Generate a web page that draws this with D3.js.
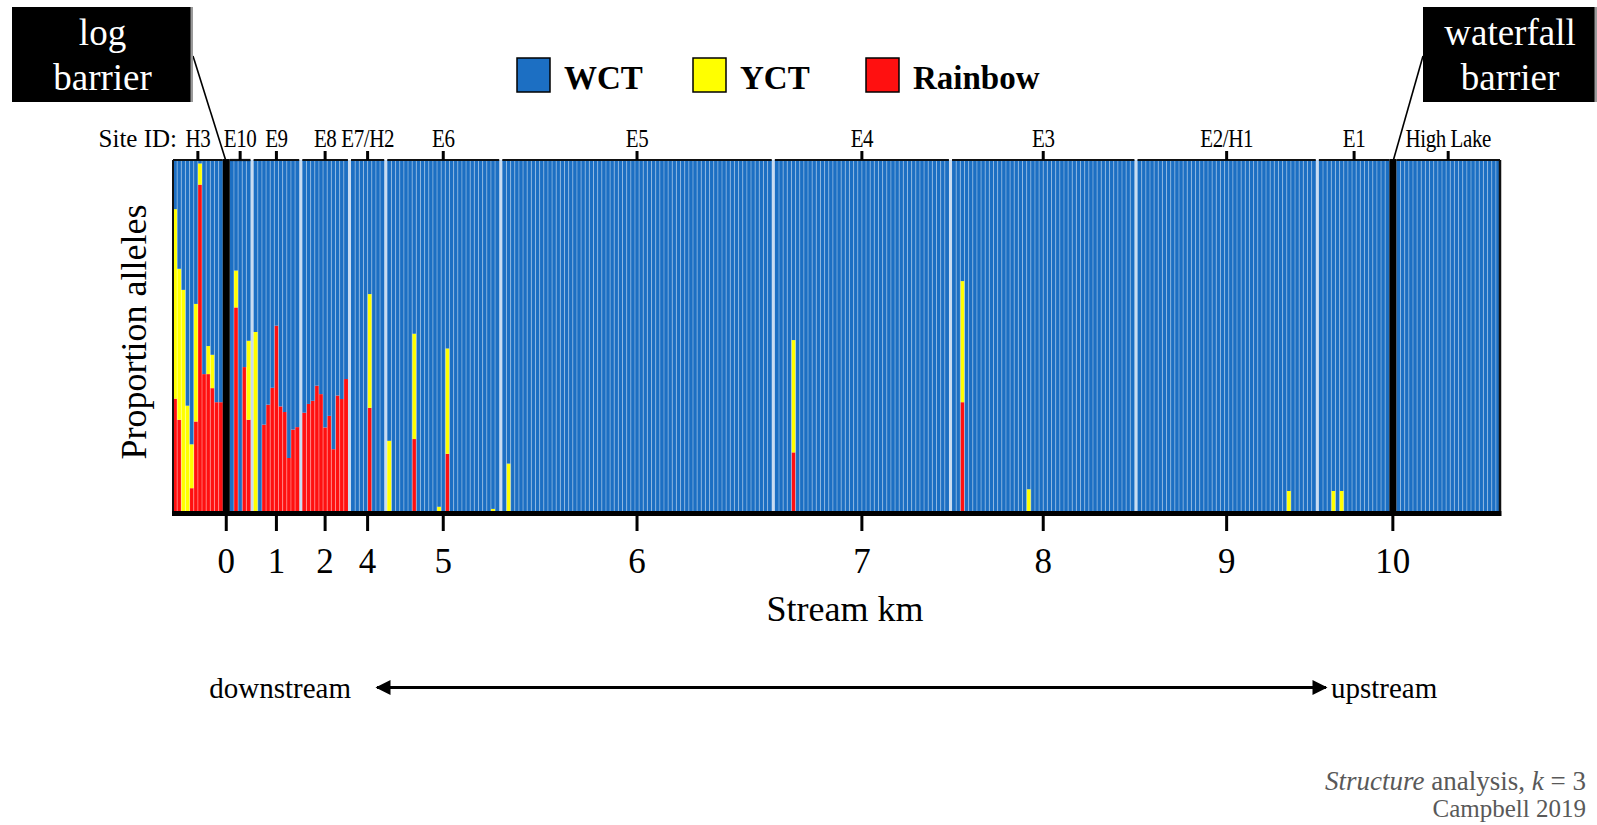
<!DOCTYPE html>
<html>
<head>
<meta charset="utf-8">
<script src="https://cdn.jsdelivr.net/npm/d3@7"></script>
<style>
  body { margin: 0; background: #fff; }
  svg { display: block; }
  text { font-family: "Liberation Serif", "Times New Roman", serif; }
</style>
</head>
<body>
<svg id="chart" width="1597" height="825"></svg>
<script>
// Sampling sites, downstream to upstream, and the number of fish genotyped at each
const siteIds   = ["H3", "E10", "E9", "E8", "E7/H2", "E6", "E5", "E4", "E3", "E2/H1", "E1", "High Lake"];
const siteSizes = [12, 5, 11, 11, 8, 27, 65, 42, 44, 43, 17, 25];

// Barriers sit immediately upstream of these sites
const barrierNames = ["log\nbarrier", "waterfall\nbarrier"];
const barrierAfter = ["H3", "E1"];

// Ancestry groups (k = 3)
const groups      = ["WCT", "YCT", "Rainbow"];
const groupColors = ["#1c6fc3", "#ffff00", "#ff1010"];

// Fish with non-WCT ancestry: [site, fish index within site, Rainbow proportion, YCT proportion]
// every other fish is pure WCT
const admixedFish = [
  ["H3", 0, 0.32, 0.54], ["H3", 1, 0.26, 0.43], ["H3", 2, 0.00, 0.63], ["H3", 3, 0.00, 0.30],
  ["H3", 4, 0.065, 0.125], ["H3", 5, 0.255, 0.335], ["H3", 6, 0.93, 0.06], ["H3", 7, 0.39, 0.00],
  ["H3", 8, 0.39, 0.08], ["H3", 9, 0.35, 0.095], ["H3", 10, 0.31, 0.00], ["H3", 11, 0.31, 0.00],
  ["E10", 1, 0.58, 0.105], ["E10", 3, 0.41, 0.00], ["E10", 4, 0.26, 0.225],
  ["E9", 0, 0.00, 0.51], ["E9", 2, 0.246, 0], ["E9", 3, 0.303, 0], ["E9", 4, 0.351, 0],
  ["E9", 5, 0.528, 0], ["E9", 6, 0.298, 0], ["E9", 7, 0.282, 0], ["E9", 8, 0.151, 0],
  ["E9", 9, 0.232, 0], ["E9", 10, 0.239, 0],
  ["E8", 0, 0.28, 0], ["E8", 1, 0.305, 0], ["E8", 2, 0.314, 0], ["E8", 3, 0.357, 0],
  ["E8", 4, 0.333, 0], ["E8", 5, 0.238, 0], ["E8", 6, 0.271, 0], ["E8", 7, 0.176, 0],
  ["E8", 8, 0.329, 0], ["E8", 9, 0.319, 0], ["E8", 10, 0.376, 0],
  ["E7/H2", 4, 0.294, 0.324],
  ["E6", 0, 0.00, 0.20], ["E6", 6, 0.205, 0.30], ["E6", 12, 0.00, 0.012],
  ["E6", 14, 0.163, 0.30], ["E6", 25, 0.00, 0.006],
  ["E5", 1, 0.00, 0.135],
  ["E4", 4, 0.167, 0.32],
  ["E3", 2, 0.31, 0.345], ["E3", 18, 0.00, 0.062],
  ["E2/H1", 36, 0.00, 0.057],
  ["E1", 3, 0.00, 0.057], ["E1", 5, 0.00, 0.057]
];

// Stream km labels and the site (or barrier) each one marks
const kmLabels = ["0", "1", "2", "4", "5", "6", "7", "8", "9", "10"];
const kmMarks  = ["log\nbarrier", "E9", "E8", "E7/H2", "E6", "E5", "E4", "E3", "E2/H1", "waterfall\nbarrier"];

// ---------------------------------------------------------------------------
const svg = d3.select("#chart");
const plotLeft = 173, plotRight = 1500, plotTop = 160, plotBottom = 511;
const gapSlots = 0.75, barrierSlots = 1.7;

// Lay out sites, gaps and barriers along a slot axis (one slot per fish)
const layout = [];   // {type, name, start, end}
let pos = 0;
siteIds.forEach((id, i) => {
  layout.push({ type: "site", name: id, start: pos, end: pos + siteSizes[i], index: i });
  pos += siteSizes[i];
  const b = barrierAfter.indexOf(id);
  if (b >= 0) {
    layout.push({ type: "barrier", name: barrierNames[b], start: pos, end: pos + barrierSlots });
    pos += barrierSlots;
  } else if (i < siteIds.length - 1) {
    layout.push({ type: "gap", start: pos, end: pos + gapSlots });
    pos += gapSlots;
  }
});
const totalSlots = pos;

const x = d3.scaleLinear().domain([0, totalSlots]).range([plotLeft, plotRight]);
const y = d3.scaleLinear().domain([0, 1]).range([plotBottom, plotTop]);
const color = d3.scaleOrdinal().domain(groups).range(groupColors);

// One row per fish
const fish = [];
layout.filter(d => d.type === "site").forEach(s => {
  for (let k = 0; k < siteSizes[s.index]; k++) {
    const a = admixedFish.find(f => f[0] === s.name && f[1] === k);
    const rb = a ? a[2] : 0, yc = a ? a[3] : 0;
    fish.push({ site: s.name, slot: s.start + k, first: k === 0, Rainbow: rb, YCT: yc, WCT: 1 - rb - yc });
  }
});

const stack = d3.stack().keys(["Rainbow", "YCT", "WCT"]);
const series = stack(fish);

// gaps between sites
svg.append("g").selectAll("rect")
  .data(layout.filter(d => d.type === "gap"))
  .join("rect")
  .attr("x", d => x(d.start)).attr("width", d => x(d.end) - x(d.start))
  .attr("y", plotTop).attr("height", plotBottom - plotTop)
  .attr("fill", "#c9dcf1");

// stacked ancestry bars
svg.append("g").selectAll("g")
  .data(series)
  .join("g")
  .attr("fill", d => color(d.key))
  .selectAll("rect")
  .data(d => d)
  .join("rect")
  .attr("x", d => x(d.data.slot))
  .attr("width", d => x(d.data.slot + 1) - x(d.data.slot) + 0.05)
  .attr("y", d => y(d[1]))
  .attr("height", d => Math.max(0, y(d[0]) - y(d[1])));

// thin pale lines between neighbouring fish
svg.append("g").selectAll("line")
  .data(fish.filter(d => !d.first))
  .join("line")
  .attr("x1", d => x(d.slot)).attr("x2", d => x(d.slot))
  .attr("y1", plotTop).attr("y2", plotBottom)
  .attr("stroke", "#ffffff").attr("stroke-opacity", 0.42).attr("stroke-width", 0.9);

// barriers
svg.append("g").selectAll("rect")
  .data(layout.filter(d => d.type === "barrier"))
  .join("rect")
  .attr("x", d => x(d.start)).attr("width", d => x(d.end) - x(d.start))
  .attr("y", plotTop - 1).attr("height", plotBottom - plotTop + 1)
  .attr("fill", "#000");

// top edge of each site block, site ticks and site labels
const sitesL = layout.filter(d => d.type === "site");
svg.append("g").selectAll("line")
  .data(sitesL)
  .join("line")
  .attr("x1", d => x(d.start)).attr("x2", d => x(d.end))
  .attr("y1", plotTop).attr("y2", plotTop)
  .attr("stroke", "#111").attr("stroke-width", 2.2);
svg.append("g").selectAll("line")
  .data(sitesL)
  .join("line")
  .attr("x1", d => x((d.start + d.end) / 2)).attr("x2", d => x((d.start + d.end) / 2))
  .attr("y1", plotTop - 9).attr("y2", plotTop)
  .attr("stroke", "#000").attr("stroke-width", 3);
svg.append("g").selectAll("text")
  .data(sitesL)
  .join("text")
  .attr("transform", d => `translate(${x((d.start + d.end) / 2)},147) scale(0.84,1)`)
  .attr("text-anchor", "middle")
  .attr("font-size", 25)
  .attr("letter-spacing", -0.5)
  .text(d => d.name);
svg.append("text")
  .attr("x", 177).attr("y", 147)
  .attr("text-anchor", "end").attr("font-size", 25)
  .text("Site ID:");

// side borders
svg.append("line").attr("x1", plotLeft).attr("x2", plotLeft).attr("y1", plotTop).attr("y2", plotBottom)
  .attr("stroke", "#111").attr("stroke-width", 2);
svg.append("line").attr("x1", plotRight).attr("x2", plotRight).attr("y1", plotTop).attr("y2", plotBottom)
  .attr("stroke", "#111").attr("stroke-width", 2.5);

// stream-km axis
const markX = name => {
  const d = layout.find(l => l.name === name);
  return x((d.start + d.end) / 2);
};
svg.append("line")
  .attr("x1", plotLeft - 1).attr("x2", plotRight + 1.5)
  .attr("y1", plotBottom + 2.5).attr("y2", plotBottom + 2.5)
  .attr("stroke", "#000").attr("stroke-width", 5);
const kmG = svg.append("g").selectAll("g")
  .data(kmLabels.map((k, i) => ({ label: k, x: markX(kmMarks[i]) })))
  .join("g");
kmG.append("line")
  .attr("x1", d => d.x).attr("x2", d => d.x)
  .attr("y1", plotBottom + 4).attr("y2", plotBottom + 20)
  .attr("stroke", "#000").attr("stroke-width", 3);
kmG.append("text")
  .attr("x", d => d.x).attr("y", 573)
  .attr("text-anchor", "middle").attr("font-size", 35)
  .text(d => d.label);

svg.append("text")
  .attr("x", 845).attr("y", 621)
  .attr("text-anchor", "middle").attr("font-size", 36)
  .text("Stream km");

// y-axis title
svg.append("text")
  .attr("transform", "translate(146,332) rotate(-90)")
  .attr("text-anchor", "middle").attr("font-size", 36)
  .text("Proportion alleles");

// legend
const legendX = [517, 693, 866];
const legend = svg.append("g").selectAll("g")
  .data(groups)
  .join("g")
  .attr("transform", (d, i) => `translate(${legendX[i]},58)`);
legend.append("rect")
  .attr("width", 33).attr("height", 34)
  .attr("fill", d => color(d)).attr("stroke", "#000").attr("stroke-width", 1.5);
legend.append("text")
  .attr("x", 47).attr("y", 31)
  .attr("font-size", 33).attr("font-weight", "bold")
  .text(d => d);

// barrier call-out boxes
const boxes = [
  { name: "log\nbarrier", x0: 12, x1: 193, lineFrom: [193, 56] },
  { name: "waterfall\nbarrier", x0: 1423, x1: 1597, lineFrom: [1423, 56] }
];
boxes.forEach(b => {
  const bx = markX(b.name);
  svg.append("line")
    .attr("x1", b.lineFrom[0]).attr("y1", b.lineFrom[1])
    .attr("x2", bx).attr("y2", plotTop + 2)
    .attr("stroke", "#000").attr("stroke-width", 1.6);
  svg.append("rect")
    .attr("x", b.x0).attr("y", 7).attr("width", b.x1 - b.x0).attr("height", 95)
    .attr("fill", "#000");
  svg.append("rect")
    .attr("x", b.x1 - 2.5).attr("y", 7).attr("width", 2.5).attr("height", 95)
    .attr("fill", "#9a9a9a");
  const lines = b.name.split("\n");
  lines.forEach((t, i) => {
    svg.append("text")
      .attr("x", (b.x0 + b.x1) / 2).attr("y", 45 + i * 45)
      .attr("text-anchor", "middle").attr("font-size", 37).attr("fill", "#fff")
      .text(t);
  });
});

// downstream / upstream arrow
const defs = svg.append("defs");
defs.append("marker")
  .attr("id", "head").attr("viewBox", "0 0 10 10")
  .attr("refX", 9).attr("refY", 5)
  .attr("markerWidth", 5.5).attr("markerHeight", 5).attr("markerUnits", "strokeWidth")
  .attr("orient", "auto-start-reverse")
  .append("path").attr("d", "M0,0 L10,5 L0,10 Z").attr("fill", "#000");
svg.append("line")
  .attr("x1", 377).attr("x2", 1326).attr("y1", 687.5).attr("y2", 687.5)
  .attr("stroke", "#000").attr("stroke-width", 3)
  .attr("marker-start", "url(#head)").attr("marker-end", "url(#head)");
svg.append("text").attr("x", 351).attr("y", 698).attr("text-anchor", "end")
  .attr("font-size", 29).text("downstream");
svg.append("text").attr("x", 1331).attr("y", 698).attr("text-anchor", "start")
  .attr("font-size", 29).text("upstream");

// credit
const credit = svg.append("text").attr("x", 1586).attr("y", 790)
  .attr("text-anchor", "end").attr("font-size", 27).attr("fill", "#595959");
credit.append("tspan").attr("font-style", "italic").text("Structure");
credit.append("tspan").text(" analysis, ");
credit.append("tspan").attr("font-style", "italic").text("k");
credit.append("tspan").text(" = 3");
svg.append("text").attr("x", 1586).attr("y", 817)
  .attr("text-anchor", "end").attr("font-size", 25).attr("fill", "#595959")
  .text("Campbell 2019");
</script>
</body>
</html>
